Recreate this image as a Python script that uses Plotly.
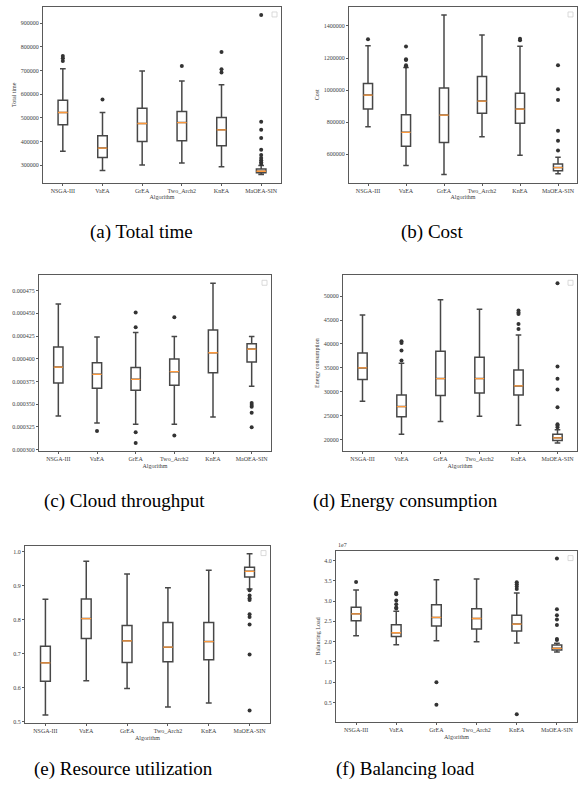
import plotly.graph_objects as go

W, H = 578, 791
ALGORITHMS = ["NSGA-III", "VaEA", "GrEA", "Two_Arch2", "KnEA", "MaOEA-SIN"]

# (a) Total time: whisker ends, quartiles, medians and fliers per algorithm
TIME_LOW = [359000, 277500, 300000, 308400, 293000, 260000]
TIME_Q1 = [470400, 332400, 400000, 402800, 381700, 268000]
TIME_MED = [522500, 371800, 476000, 480000, 449200, 274000]
TIME_Q3 = [574600, 424000, 540800, 526700, 501300, 284000]
TIME_HIGH = [708000, 522500, 698500, 656000, 639300, 298000]
TIME_OUT = [[740700, 752000, 761800], [577000], [], [719600],
            [691400, 705500, 778700],
            [305000, 312000, 320000, 330000, 343000, 365000, 415000, 450000, 483000, 935000]]

# (b) Cost
COST_LOW = [772000, 529500, 473500, 710000, 594000, 478000]
COST_Q1 = [882000, 649800, 672600, 855000, 792800, 498000]
COST_MED = [969000, 736800, 844600, 931700, 882000, 517000]
COST_Q3 = [1041500, 846700, 1012500, 1085000, 981000, 540000]
COST_HIGH = [1276000, 1141000, 1468600, 1344000, 1274000, 581000]
COST_OUT = [[1317000], [1147000, 1155600, 1187000, 1193000, 1271600], [], [],
            [1311000, 1321000],
            [623000, 685000, 747000, 938000, 1006000, 1155600]]

# (c) Cloud throughput
THR_LOW = [0.0003370, 0.0003293, 0.0003278, 0.0003278, 0.0003359, 0.0003696]
THR_Q1 = [0.0003732, 0.0003674, 0.0003652, 0.0003707, 0.0003846, 0.0003963]
THR_MED = [0.0003908, 0.0003828, 0.0003773, 0.0003857, 0.0004066, 0.0004106]
THR_Q3 = [0.0004128, 0.0003956, 0.0003904, 0.0003996, 0.0004315, 0.0004164]
THR_HIGH = [0.0004604, 0.0004238, 0.0004289, 0.0004245, 0.0004831, 0.0004245]
THR_OUT = [[], [0.0003205], [0.0003073, 0.0003190, 0.0004347, 0.0004509],
           [0.0003154, 0.0004457], [],
           [0.0003245, 0.0003406, 0.0003470, 0.0003490, 0.0003513]]

# (d) Energy consumption
ENERGY_LOW = [28020, 21120, 23760, 24880, 23000, 19300]
ENERGY_Q1 = [32550, 24740, 29200, 29760, 29340, 19790]
ENERGY_MED = [34990, 26900, 32760, 32760, 31220, 20350]
ENERGY_Q3 = [38120, 29340, 38470, 37220, 34570, 21120]
ENERGY_HIGH = [46070, 35960, 49270, 47250, 41890, 22020]
ENERGY_OUT = [[], [36520, 38610, 40210, 40560], [], [],
              [43140, 44190, 46280, 46560, 46970],
              [22580, 22930, 23200, 26760, 30460, 32690, 35260, 52690]]

# (e) Resource utilization
UTIL_LOW = [0.5186, 0.6196, 0.5971, 0.5422, 0.5539, 0.8902]
UTIL_Q1 = [0.6186, 0.7441, 0.6735, 0.6755, 0.6814, 0.9255]
UTIL_MED = [0.6725, 0.8029, 0.7373, 0.7186, 0.7353, 0.9422]
UTIL_Q3 = [0.7216, 0.8608, 0.7824, 0.7912, 0.7912, 0.9539]
UTIL_HIGH = [0.8598, 0.9716, 0.9343, 0.8941, 0.9451, 0.9941]
UTIL_OUT = [[], [], [], [], [],
            [0.5324, 0.6970, 0.7853, 0.8078, 0.8157, 0.8578, 0.8627, 0.8706, 0.8863]]

# (f) Balancing load, in units of 1e7
LOAD_LOW = [2.145, 1.924, 2.022, 1.998, 1.965, 1.744]
LOAD_Q1 = [2.513, 2.128, 2.382, 2.309, 2.259, 1.793]
LOAD_MED = [2.685, 2.218, 2.595, 2.570, 2.431, 1.834]
LOAD_Q3 = [2.849, 2.415, 2.906, 2.808, 2.652, 1.916]
LOAD_HIGH = [3.274, 2.750, 3.528, 3.544, 3.200, 1.957]
LOAD_OUT = [[3.470], [2.816, 2.840, 2.922, 3.012, 3.168, 3.200], [0.443, 1.000], [],
            [0.205, 3.300, 3.356, 3.413, 3.462],
            [2.040, 2.063, 2.407, 2.546, 2.652, 2.800, 4.052]]

SERIF = "Liberation Serif"
BOX_LINE = "#474747"
FRAME = "#5a5a5a"
MEDIAN = "#ff9a3c"

# panel frames in pixels: left, top, right, bottom
PANELS = [
    dict(box=(43, 7, 281, 183), stats=(TIME_LOW, TIME_Q1, TIME_MED, TIME_Q3, TIME_HIGH, TIME_OUT),
         ytitle="Total time", dtick=100000, fmt="d", caption="(a) Total time", cap=(141, 233)),
    dict(box=(349, 7, 577, 183), stats=(COST_LOW, COST_Q1, COST_MED, COST_Q3, COST_HIGH, COST_OUT),
         ytitle="Cost", dtick=200000, fmt="d", caption="(b) Cost", cap=(432, 233)),
    dict(box=(39, 276, 271, 452), stats=(THR_LOW, THR_Q1, THR_MED, THR_Q3, THR_HIGH, THR_OUT),
         ytitle=None, dtick=0.000025, fmt=".6f", caption="(c) Cloud throughput", cap=(124, 502)),
    dict(box=(343, 276, 577, 452), stats=(ENERGY_LOW, ENERGY_Q1, ENERGY_MED, ENERGY_Q3, ENERGY_HIGH, ENERGY_OUT),
         ytitle="Energy consumption", dtick=5000, fmt="d", caption="(d) Energy consumption", cap=(405, 502)),
    dict(box=(25, 547, 270, 725), stats=(UTIL_LOW, UTIL_Q1, UTIL_MED, UTIL_Q3, UTIL_HIGH, UTIL_OUT),
         ytitle=None, dtick=0.1, fmt=".1f", caption="(e) Resource utilization", cap=(123, 771)),
    dict(box=(336, 552, 577, 724), stats=(LOAD_LOW, LOAD_Q1, LOAD_MED, LOAD_Q3, LOAD_HIGH, LOAD_OUT),
         ytitle="Balancing Load", dtick=0.5, fmt=".1f", caption="(f) Balancing load", cap=(405, 771)),
]

fig = go.Figure()
annotations = []
shapes = []

for i, p in enumerate(PANELS, start=1):
    low, q1, med, q3, high, out = p["stats"]
    sfx = "" if i == 1 else str(i)
    xa, ya = "x" + sfx, "y" + sfx

    fig.add_trace(go.Box(
        x=ALGORITHMS, q1=q1, median=med, q3=q3, lowerfence=low, upperfence=high,
        orientation="v", width=0.24, whiskerwidth=0.6, fillcolor="white",
        line=dict(color=BOX_LINE, width=1.5), boxpoints=False,
        xaxis=xa, yaxis=ya, showlegend=False, hoverinfo="skip"))
    # orange median bar drawn on top of the box outline
    fig.add_trace(go.Box(
        x=ALGORITHMS, q1=med, median=med, q3=med, lowerfence=med, upperfence=med,
        orientation="v", width=0.24, whiskerwidth=0, fillcolor="rgba(0,0,0,0)",
        line=dict(color=MEDIAN, width=1.3), boxpoints=False,
        xaxis=xa, yaxis=ya, showlegend=False, hoverinfo="skip"))
    fx, fy = [], []
    for name, vals in zip(ALGORITHMS, out):
        fx += [name] * len(vals)
        fy += vals
    fig.add_trace(go.Scatter(
        x=fx, y=fy, mode="markers",
        marker=dict(size=4, color="#333333", line=dict(width=0)),
        xaxis=xa, yaxis=ya, showlegend=False, hoverinfo="skip"))

    allv = low + high + [v for vs in out for v in vs]
    lo, hi = min(allv), max(allv)
    pad = 0.05 * (hi - lo)

    l, t, r, b = p["box"]
    tick_font = dict(family=SERIF, size=6, color="#404040")
    fig.update_layout(**{
        ("xaxis" + sfx): dict(
            domain=[l / W, r / W], anchor=ya, type="category",
            categoryorder="array", categoryarray=ALGORITHMS, range=[-0.5, 5.5],
            showline=True, mirror=True, linecolor=FRAME, linewidth=1,
            ticks="outside", ticklen=2, tickcolor=FRAME, tickfont=tick_font,
            showgrid=False, zeroline=False,
            title=dict(text="Algorithm", font=tick_font, standoff=2)),
        ("yaxis" + sfx): dict(
            domain=[1 - b / H, 1 - t / H], anchor=xa,
            range=[lo - pad, hi + pad], dtick=p["dtick"], tickformat=p["fmt"],
            showline=True, mirror=True, linecolor=FRAME, linewidth=1,
            ticks="outside", ticklen=2, tickcolor=FRAME, tickfont=tick_font,
            showgrid=False, zeroline=False,
            title=dict(text=p["ytitle"] or "", font=tick_font, standoff=3)),
    })

    # empty legend frame in the upper-right corner
    shapes.append(dict(type="rect", xref="paper", yref="paper",
                       x0=(r - 9) / W, x1=(r - 4) / W,
                       y0=1 - (t + 10) / H, y1=1 - (t + 5) / H,
                       line=dict(color="#d0d0d0", width=0.8), fillcolor="white"))

    cx, cy = p["cap"]
    annotations.append(dict(
        text=p["caption"], x=cx / W, y=1 - cy / H, xref="paper", yref="paper",
        xanchor="center", yanchor="middle", showarrow=False,
        font=dict(family=SERIF, size=19, color="#000000")))

# offset label of the balancing-load axis
l, t, r, b = PANELS[5]["box"]
annotations.append(dict(
    text="1e7", x=l / W, y=1 - (t - 1) / H, xref="paper", yref="paper",
    xanchor="left", yanchor="bottom", showarrow=False,
    font=dict(family=SERIF, size=6, color="#404040")))

fig.update_layout(
    width=W, height=H, margin=dict(l=0, r=0, t=0, b=0),
    paper_bgcolor="white", plot_bgcolor="white",
    boxmode="overlay", annotations=annotations, shapes=shapes,
)

fig.write_html("out.html")
